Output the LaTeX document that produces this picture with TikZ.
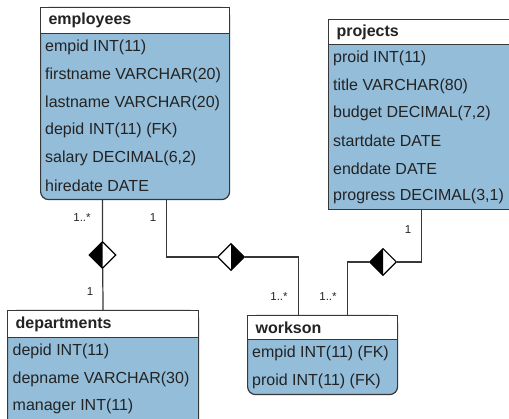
\documentclass[tikz,border=0pt]{standalone}
\usepackage{fontspec}
\setmainfont{Liberation Sans}
\usetikzlibrary{shapes.geometric}
\definecolor{tblblue}{RGB}{148,189,217}
\definecolor{linegray}{RGB}{55,55,55}
\definecolor{txtgray}{RGB}{35,35,35}
\tikzset{
 tbl/.style={draw=linegray,fill=tblblue,line width=1.2pt,rounded corners=8pt,anchor=north west,inner sep=0pt},
 tblhead/.style={draw=linegray,fill=white,line width=1.2pt,anchor=north west,inner xsep=8pt,inner ysep=0pt,align=left,text=txtgray,font=\fontsize{16}{18}\selectfont\bfseries},
 row/.style={anchor=west,inner sep=0pt,text=txtgray,font=\fontsize{16}{18}\selectfont},
 mult/.style={inner sep=0pt,text=txtgray,font=\fontsize{11.5}{13}\selectfont},
 conn/.style={draw=linegray,line width=1.2pt},
 aggl/.style={diamond,aspect=1,draw=black,line width=1.1pt,fill=white,minimum width=27pt,minimum height=27pt,inner sep=0pt,
  path picture={\fill[black] (path picture bounding box.north) -- (path picture bounding box.west) -- (path picture bounding box.south) -- cycle;}},
 aggr/.style={diamond,aspect=1,draw=black,line width=1.1pt,fill=white,minimum width=27pt,minimum height=27pt,inner sep=0pt,
  path picture={\fill[black] (path picture bounding box.north) -- (path picture bounding box.east) -- (path picture bounding box.south) -- cycle;}}
}
\begin{document}
\begin{tikzpicture}[x=1pt,y=-1pt]
 \useasboundingbox (0,0) rectangle (509,419);
 \clip (0,0) rectangle (509,419);
 % employees
 \node[tbl,minimum width=189pt,minimum height=192pt] (emp) at (40,7) {};
 \node[tblhead,text width=173pt,minimum height=26pt] (emphead) at (40,7) {employees};
 \node[row] (emp1) at (45,47.5) {empid INT(11)};
 \node[row] (emp2) at (45,75.2) {firstname VARCHAR(20)};
 \node[row] (emp3) at (45,102.9) {lastname VARCHAR(20)};
 \node[row] (emp4) at (45,130.6) {depid INT(11) (FK)};
 \node[row] (emp5) at (45,158.3) {salary DECIMAL(6,2)};
 \node[row] (emp6) at (45,186) {hiredate DATE};
 % projects
 \node[tbl,sharp corners,minimum width=186pt,minimum height=190pt] (proj) at (328,19) {};
 \node[tblhead,text width=170pt,minimum height=25pt] (projhead) at (328,19) {projects};
 \node[row] (proj1) at (333,58.5) {proid INT(11)};
 \node[row] (proj2) at (333,86) {title VARCHAR(80)};
 \node[row] (proj3) at (333,113.5) {budget DECIMAL(7,2)};
 \node[row] (proj4) at (333,141) {startdate DATE};
 \node[row] (proj5) at (333,168.5) {enddate DATE};
 \node[row] (proj6) at (333,196) {progress DECIMAL(3,1)};
 % departments
 \node[tbl,minimum width=191pt,minimum height=125pt] (dep) at (7,310) {};
 \node[tblhead,text width=175pt,minimum height=27pt] (dephead) at (7,310) {departments};
 \node[row] (dep1) at (12.5,351.5) {depid INT(11)};
 \node[row] (dep2) at (12.5,379) {depname VARCHAR(30)};
 \node[row] (dep3) at (12.5,406.5) {manager INT(11)};
 % workson
 \node[tbl,minimum width=150pt,minimum height=79pt] (wrk) at (247,315) {};
 \node[tblhead,text width=134pt,minimum height=24pt] (wrkhead) at (247,315) {workson};
 \node[row] (wrk1) at (252,353.5) {empid INT(11) (FK)};
 \node[row] (wrk2) at (252,381) {proid INT(11) (FK)};
 % aggregations
 \node[aggl] (agg1) at (102.5,255) {};
 \node[aggr] (agg2) at (231,257) {};
 \node[aggl] (agg3) at (383,262) {};
 \draw[conn] (dep.north) -- (agg1) -- (agg1 |- emp.south);
 \draw[conn] ([xshift=31.5pt]emp.south) |- (agg2);
 \draw[conn] (agg2) -| ([xshift=-24pt]wrk.north);
 \draw[conn] (proj.south) |- (agg3);
 \draw[conn] (agg3) -| ([xshift=25pt]wrk.north);
 % multiplicities
 \node[mult] (m1) at (82,218) {1..*};
 \node[mult] (m2) at (153,218) {1};
 \node[mult] (m3) at (90,292) {1};
 \node[mult] (m4) at (279,297) {1..*};
 \node[mult] (m5) at (328,297) {1..*};
 \node[mult] (m6) at (408,230) {1};
\end{tikzpicture}
\end{document}
